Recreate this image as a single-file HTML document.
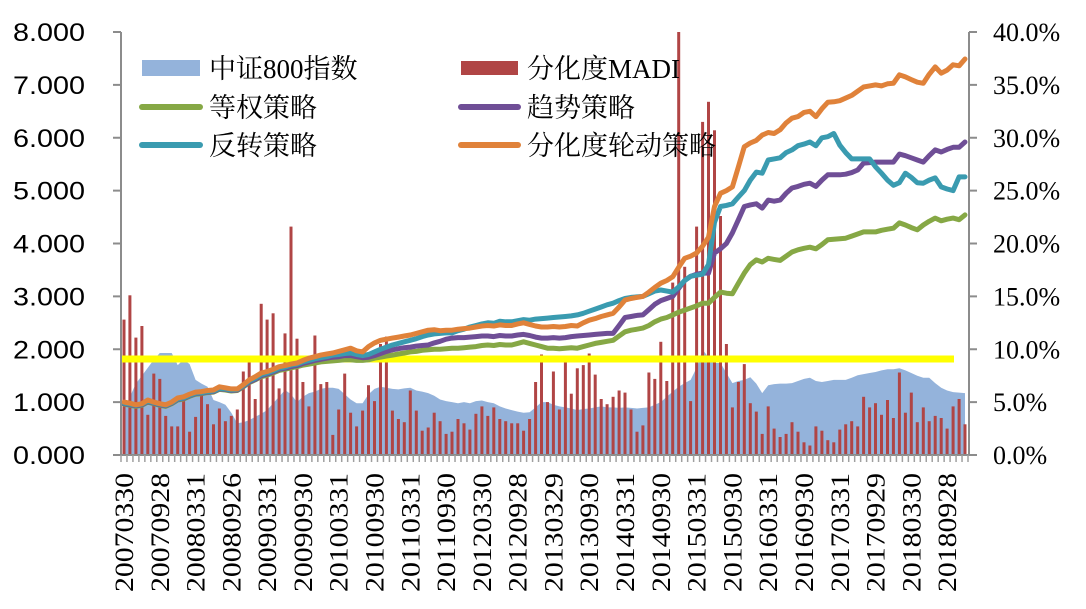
<!DOCTYPE html>
<html><head><meta charset="utf-8"><style>
html,body{margin:0;padding:0;background:#fff;width:1086px;height:609px;overflow:hidden}
svg{display:block}
</style></head><body>
<svg id="chart" width="1086" height="609" viewBox="0 0 1086 609" xmlns="http://www.w3.org/2000/svg">
<g id="area-layer"></g>
<g id="bar-layer"></g>
<g id="line-layer"></g>
<g id="axis-layer"></g>
<g id="legend" font-family="'Liberation Serif','Noto Serif CJK SC',serif" font-size="27" fill="#000">
  <rect x="142" y="60" width="58" height="16" fill="#94B3DB"/>
  <text x="209" y="78">中证800指数</text>
  <rect x="461" y="61" width="57" height="14" fill="#B04545"/>
  <text x="527" y="78">分化度MADI</text>
  <line x1="142" y1="107" x2="200" y2="107" stroke="#86A845" stroke-width="6" stroke-linecap="round"/>
  <text x="209" y="117">等权策略</text>
  <line x1="461" y1="107" x2="518" y2="107" stroke="#6F4E96" stroke-width="6" stroke-linecap="round"/>
  <text x="527" y="117">趋势策略</text>
  <line x1="142" y1="145" x2="200" y2="145" stroke="#3A9BB0" stroke-width="6" stroke-linecap="round"/>
  <text x="209" y="155">反转策略</text>
  <line x1="461" y1="145" x2="518" y2="145" stroke="#E0823A" stroke-width="6" stroke-linecap="round"/>
  <text x="527" y="155">分化度轮动策略</text>
</g>
</svg>
<script>
const csi800 = [
0.85,1.10,1.35,1.50,1.65,1.80,1.93,1.93,1.93,1.70,
1.80,1.72,1.42,1.35,1.29,1.04,1.00,0.95,0.80,0.60,
0.62,0.66,0.72,0.78,0.85,0.98,1.10,1.23,1.15,1.00,
1.10,1.17,1.20,1.25,1.27,1.27,1.25,1.15,1.05,0.98,
0.98,1.15,1.25,1.29,1.27,1.25,1.24,1.26,1.27,1.22,
1.20,1.17,1.12,1.05,1.02,1.00,0.98,1.00,0.98,1.02,
1.03,1.00,0.98,0.92,0.88,0.85,0.82,0.80,0.81,0.90,
1.00,1.00,0.95,0.92,0.90,0.88,0.85,0.87,0.88,0.90,
0.92,0.90,0.90,0.89,0.90,0.89,0.88,0.89,0.90,0.95,
1.00,1.10,1.20,1.29,1.36,1.42,1.65,1.99,1.85,1.74,
1.74,1.55,1.36,1.40,1.42,1.47,1.35,1.17,1.32,1.34,
1.35,1.35,1.36,1.40,1.44,1.46,1.40,1.38,1.40,1.42,
1.42,1.42,1.46,1.51,1.53,1.55,1.57,1.60,1.62,1.62,
1.64,1.60,1.55,1.50,1.46,1.46,1.36,1.27,1.22,1.19,
1.18,1.17];
const madi = [
12.8,15.1,11.1,12.2,3.8,7.7,7.2,3.7,2.7,2.7,
5.2,2.2,3.6,5.6,4.8,2.9,4.4,3.2,3.7,4.3,
7.9,9.4,5.3,14.3,12.8,13.4,6.3,11.5,21.6,11.0,
6.9,4.6,11.3,6.7,6.9,1.9,4.3,7.7,4.0,2.7,
4.2,6.6,5.1,10.5,11.2,4.2,3.4,3.1,6.1,4.2,
2.3,2.6,4.0,3.2,2.0,2.2,3.4,3.0,2.4,3.9,
4.6,3.7,4.5,3.4,3.2,3.0,3.0,2.3,3.4,6.9,
9.5,5.0,7.9,4.3,9.4,5.8,8.2,8.5,9.6,7.6,
5.3,4.8,5.5,6.1,5.9,4.3,2.2,2.8,7.8,7.2,
10.7,7.0,16.3,40.0,17.8,5.1,21.6,31.5,33.4,30.7,
22.6,10.5,4.5,6.9,8.6,4.9,4.1,2.0,4.6,2.5,
1.7,2.0,3.1,2.2,1.2,0.9,2.7,2.3,1.4,1.2,
2.4,2.9,3.2,2.7,5.5,4.5,4.9,3.8,5.2,3.5,
7.8,4.0,5.9,3.1,4.5,3.2,3.7,3.5,2.5,4.6,
5.3,2.9];
const equalWeight = [
0.96,0.94,0.92,0.94,1.00,0.97,0.94,0.92,0.97,1.04,
1.06,1.11,1.15,1.16,1.18,1.19,1.24,1.23,1.21,1.22,
1.29,1.37,1.42,1.48,1.51,1.55,1.60,1.62,1.65,1.67,
1.70,1.72,1.74,1.76,1.77,1.78,1.79,1.80,1.80,1.79,
1.79,1.80,1.83,1.85,1.87,1.89,1.91,1.93,1.95,1.96,
1.98,1.99,2.00,2.00,2.01,2.02,2.02,2.03,2.04,2.05,
2.07,2.08,2.07,2.09,2.08,2.08,2.11,2.14,2.11,2.08,
2.05,2.02,2.02,2.01,2.02,2.03,2.02,2.05,2.08,2.11,
2.13,2.15,2.17,2.25,2.33,2.36,2.38,2.40,2.45,2.52,
2.57,2.60,2.65,2.70,2.74,2.78,2.82,2.87,2.87,2.98,
3.08,3.06,3.05,3.25,3.44,3.60,3.69,3.65,3.72,3.70,
3.68,3.76,3.84,3.88,3.91,3.93,3.90,3.98,4.07,4.08,
4.09,4.10,4.14,4.18,4.22,4.22,4.22,4.25,4.27,4.29,
4.39,4.35,4.30,4.26,4.35,4.42,4.48,4.43,4.46,4.48,
4.45,4.54];
const trend = [
0.97,0.95,0.93,0.95,1.01,0.98,0.95,0.93,0.98,1.05,
1.07,1.12,1.16,1.17,1.19,1.20,1.25,1.24,1.22,1.23,
1.30,1.38,1.43,1.50,1.53,1.57,1.62,1.64,1.67,1.69,
1.73,1.76,1.79,1.81,1.83,1.85,1.86,1.88,1.88,1.86,
1.84,1.85,1.88,1.92,1.96,1.99,2.01,2.03,2.04,2.06,
2.07,2.08,2.12,2.15,2.19,2.21,2.22,2.22,2.23,2.24,
2.25,2.25,2.24,2.26,2.25,2.25,2.27,2.28,2.26,2.23,
2.21,2.21,2.22,2.21,2.22,2.24,2.25,2.26,2.27,2.28,
2.29,2.30,2.30,2.45,2.60,2.62,2.64,2.65,2.75,2.85,
2.92,2.96,3.00,3.15,3.30,3.38,3.42,3.44,3.44,3.82,
3.90,4.00,4.20,4.45,4.70,4.73,4.75,4.67,4.82,4.80,
4.82,4.95,5.05,5.08,5.12,5.14,5.08,5.20,5.30,5.30,
5.30,5.31,5.34,5.39,5.52,5.53,5.54,5.54,5.54,5.54,
5.69,5.66,5.62,5.58,5.54,5.66,5.77,5.73,5.78,5.82,
5.82,5.92];
const reversal = [
0.98,0.96,0.94,0.96,1.02,0.99,0.96,0.94,0.99,1.06,
1.08,1.13,1.17,1.18,1.20,1.21,1.26,1.25,1.23,1.24,
1.31,1.40,1.45,1.52,1.55,1.59,1.64,1.66,1.70,1.72,
1.76,1.79,1.82,1.84,1.86,1.89,1.90,1.92,1.93,1.90,
1.88,1.90,1.95,2.00,2.04,2.08,2.11,2.14,2.17,2.20,
2.24,2.27,2.29,2.30,2.31,2.31,2.35,2.38,2.42,2.45,
2.48,2.50,2.49,2.53,2.52,2.52,2.54,2.56,2.55,2.57,
2.58,2.59,2.60,2.61,2.62,2.63,2.65,2.68,2.72,2.76,
2.80,2.84,2.87,2.92,2.96,2.98,2.99,3.00,3.05,3.10,
3.12,3.10,3.08,3.18,3.30,3.38,3.40,3.42,3.60,4.40,
4.70,4.72,4.75,4.88,5.00,5.20,5.35,5.33,5.58,5.60,
5.62,5.72,5.77,5.85,5.88,5.92,5.85,6.00,6.02,6.08,
5.86,5.72,5.60,5.60,5.60,5.60,5.45,5.33,5.20,5.10,
5.15,5.33,5.25,5.15,5.14,5.20,5.24,5.07,5.03,5.00,
5.26,5.26];
const rotation = [
1.00,0.98,0.95,0.97,1.04,1.00,0.97,0.95,1.00,1.08,
1.10,1.15,1.19,1.20,1.22,1.23,1.29,1.27,1.25,1.25,
1.33,1.42,1.48,1.55,1.58,1.62,1.67,1.69,1.72,1.74,
1.79,1.83,1.86,1.89,1.91,1.93,1.96,1.99,2.02,1.97,
1.95,2.05,2.12,2.17,2.19,2.21,2.23,2.25,2.27,2.30,
2.33,2.36,2.37,2.35,2.36,2.36,2.38,2.39,2.40,2.42,
2.44,2.45,2.44,2.46,2.45,2.45,2.48,2.50,2.47,2.44,
2.42,2.42,2.43,2.42,2.43,2.45,2.44,2.50,2.55,2.58,
2.62,2.65,2.68,2.80,2.93,2.96,2.98,3.00,3.08,3.17,
3.25,3.30,3.37,3.55,3.72,3.76,3.82,3.95,4.12,4.70,
4.95,5.00,5.07,5.45,5.83,5.90,5.95,6.05,6.10,6.08,
6.15,6.28,6.37,6.40,6.48,6.50,6.40,6.55,6.67,6.68,
6.70,6.75,6.80,6.88,6.96,6.98,7.00,6.98,7.02,7.03,
7.19,7.15,7.10,7.05,7.03,7.20,7.34,7.22,7.28,7.38,
7.36,7.49];
const thresholdValue = 1.815;
const leftTicks = ["0.000","1.000","2.000","3.000","4.000","5.000","6.000","7.000","8.000"];
const rightTicks = ["0.0%","5.0%","10.0%","15.0%","20.0%","25.0%","30.0%","35.0%","40.0%"];
const xLabels = ["20070330","20070928","20080331","20080926","20090331","20090930","20100331","20100930","20110331","20110930","20120330","20120928","20130329","20130930","20140331","20140930","20150331","20150930","20160331","20160930","20170331","20170929","20180330","20180928"];

const NS = "http://www.w3.org/2000/svg";
const PL = 121, PR = 968, PT = 32, PB = 455;
const N = csi800.length;
const band = (PR - PL) / N;
const xPos = i => PL + band * (i + 0.5);
const yL = v => PB - (PB - PT) * v / 8;
const yR = p => PB - (PB - PT) * p / 40;
function mk(tag, attrs, parent) {
  const e = document.createElementNS(NS, tag);
  for (const k in attrs) e.setAttribute(k, attrs[k]);
  parent.appendChild(e);
  return e;
}

// area
const areaG = document.getElementById('area-layer');
let d = `M${xPos(0)},${PB}`;
csi800.forEach((v, i) => { d += ` L${xPos(i).toFixed(1)},${yL(v).toFixed(1)}`; });
d += ` L${xPos(N - 1)},${PB} Z`;
const area = mk('path', {d: d, fill: '#94B3DB'}, areaG);



// bars
const barG = document.getElementById('bar-layer');
madi.forEach((p, i) => {
  const y = Math.max(yR(p), PT - 2);
  const r = mk('rect', {x: (xPos(i) - 1.5).toFixed(1), y: y.toFixed(1), width: 3, height: (PB - y).toFixed(1), fill: '#B04545'}, barG);
  
  
});

// threshold
const lineG = document.getElementById('line-layer');
const th = mk('line', {x1: 122, x2: 954, y1: yL(thresholdValue), y2: yL(thresholdValue), stroke: '#FFFF00', 'stroke-width': 7}, lineG);



// lines
const series = [
  ['equal-weight-line', equalWeight, '#86A845'],
  ['trend-line', trend, '#6F4E96'],
  ['reversal-line', reversal, '#3A9BB0'],
  ['rotation-line', rotation, '#E0823A']
];
series.forEach(([name, arr, col]) => {
  const pts = arr.map((v, i) => xPos(i).toFixed(1) + ',' + yL(v).toFixed(1)).join(' ');
  const pl = mk('polyline', {points: pts, fill: 'none', stroke: col, 'stroke-width': 5, 'stroke-linejoin': 'round', 'stroke-linecap': 'round'}, lineG);
  
  
});

// axes
const ax = document.getElementById('axis-layer');
const axisCol = '#8C8C8C';
const la = mk('line', {x1: PL, x2: PL, y1: PT, y2: PB, stroke: axisCol, 'stroke-width': 2}, ax);


const ra = mk('line', {x1: PR + 1, x2: PR + 1, y1: PT, y2: PB, stroke: axisCol, 'stroke-width': 2}, ax);


const ba = mk('line', {x1: 113, x2: PR + 1, y1: PB, y2: PB, stroke: axisCol, 'stroke-width': 2}, ax);


leftTicks.forEach((t, k) => {
  const y = yL(k);
  mk('line', {x1: 113, x2: PL, y1: y, y2: y, stroke: axisCol, 'stroke-width': 2}, ax);
  const tx = mk('text', {x: 13, y: y + 9, 'font-family': "'Liberation Sans',sans-serif", 'font-size': 25, textLength: 72, lengthAdjust: 'spacingAndGlyphs', fill: '#000'}, ax);
  tx.textContent = t;
  
  
});
rightTicks.forEach((t, k) => {
  const y = yR(k * 5);
  mk('line', {x1: PR + 1, x2: PR + 9, y1: y, y2: y, stroke: axisCol, 'stroke-width': 2}, ax);
  const tx = mk('text', {x: 993, y: y + 9, 'font-family': "'Liberation Serif',serif", 'font-size': 26, fill: '#000'}, ax);
  tx.textContent = t;
  
  
});
for (let i = 0; i <= N; i++) {
  const x = PL + band * i;
  mk('line', {x1: x, x2: x, y1: PB, y2: PB + 7, stroke: '#A0A0A0', 'stroke-width': 1.5}, ax);
}
xLabels.forEach((t, k) => {
  const x = xPos(k * 6) + 9;
  const tx = mk('text', {x: 0, y: 0, transform: `translate(${x.toFixed(1)},592) rotate(-90)`, 'font-family': "'Liberation Serif',serif", 'font-size': 26, textLength: 119, lengthAdjust: 'spacingAndGlyphs', fill: '#000'}, ax);
  tx.textContent = t;
  
  
});
</script>
</body></html>
